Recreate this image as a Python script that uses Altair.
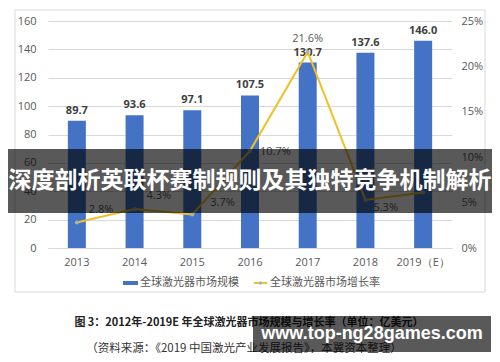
import altair as alt
import pandas as pd

# ---------------- data ----------------
years = ["2013", "2014", "2015", "2016", "2017", "2018", "2019（E）"]
market_size = [89.7, 93.6, 97.1, 107.5, 130.7, 137.6, 146.0]
growth_pct = [2.8, 4.3, 3.7, 10.7, 21.6, 5.3, 6.1]
left_ticks = [0, 20, 40, 60, 80, 100, 120, 140, 160]
right_ticks = [0, 0.05, 0.10, 0.15, 0.20, 0.25]

legend_labels = ["全球激光器市场规模", "全球激光器市场增长率"]
banner_text = "深度剖析英联杯赛制规则及其独特竞争机制解析"
caption_line1 = "图 3：2012年-2019E 年全球激光器市场规模与增长率（单位：亿美元）"
caption_line2 = "（资料来源：《2019 中国激光产业发展报告》，本翼资本整理）"
watermark_text = "www.top-ng28games.com"

df = pd.DataFrame({
    "year": years,
    "size": market_size,
    "growth": [g / 100 for g in growth_pct],
})
one = pd.DataFrame({"k": [0]})

CJK = "Noto Sans CJK SC"
NUM = "Open Sans"
BLUE = "#4472C4"
GOLD = "#EFC12B"
GRID = "#d9d9d9"
LAB = "#595959"

xenc = alt.X(
    "year:N", sort=years,
    scale=alt.Scale(paddingInner=0, paddingOuter=0),
    axis=alt.Axis(title=None, labelAngle=0, ticks=False, domainColor=GRID,
                  labelColor=LAB, labelFontSize=11, labelPadding=8, labelFont=NUM),
)

y_left = alt.Y(
    "size:Q",
    scale=alt.Scale(domain=[0, 160], nice=False),
    axis=alt.Axis(title=None, values=left_ticks, grid=True, gridColor=GRID, domain=False,
                  ticks=False, labelColor=LAB, labelFontSize=11, labelPadding=12, labelFont=NUM),
)
y_right = alt.Y(
    "growth:Q",
    scale=alt.Scale(domain=[0, 0.25], nice=False),
    axis=alt.Axis(title=None, orient="right", format=".0%", values=right_ticks, grid=False,
                  domain=False, ticks=False, labelColor=LAB, labelFontSize=11, labelPadding=9,
                  labelFont=NUM),
)

base = alt.Chart(df)
bars = base.mark_bar(size=18, color=BLUE).encode(x=xenc, y=y_left)
bar_labels = base.mark_text(dy=-10, fontWeight="bold", color="#404040", fontSize=11, font=NUM).encode(
    x=xenc, y=y_left, text=alt.Text("size:Q", format=".1f"))
left = alt.layer(bars, bar_labels)

line = base.mark_line(color=GOLD, strokeWidth=2).encode(x=xenc, y=y_right)
pts = base.mark_point(filled=True, size=16, color="#B0B0B0", opacity=1).encode(x=xenc, y=y_right)


def glabel(sel, **kw):
    return base.transform_filter(alt.FieldOneOfPredicate(field="year", oneOf=sel)).mark_text(
        color=LAB, fontSize=11, font=NUM, **kw).encode(
        x=xenc, y=y_right, text=alt.Text("growth:Q", format=".1%"))


gl1 = glabel(["2013", "2014"], align="left", dx=12, dy=-13)
gl2 = glabel(["2015"], align="left", dx=18, dy=-11)
gl3 = glabel(["2016"], align="left", dx=10, dy=1)
gl4 = glabel(["2017"], align="center", dx=0, dy=-13)
gl5 = glabel(["2018"], align="left", dx=8, dy=8)
right = alt.layer(line, pts, gl1, gl2, gl3, gl4, gl5)

dec = alt.Chart(one)

# outer frame
frame = dec.mark_rect(fill=None, stroke=GRID, strokeWidth=1).encode(
    x=alt.value(-33), x2=alt.value(437), y=alt.value(-11), y2=alt.value(271))

# legend
leg_rect = dec.mark_rect(color=BLUE).encode(
    x=alt.value(75), x2=alt.value(90), y=alt.value(260), y2=alt.value(264))
leg_t1 = dec.mark_text(align="left", baseline="middle", fontSize=11, font=CJK, color=LAB).encode(
    x=alt.value(92), y=alt.value(262), text=alt.value(legend_labels[0]))
leg_line = dec.mark_rule(color=GOLD, strokeWidth=2).encode(
    x=alt.value(206), x2=alt.value(219), y=alt.value(262))
leg_dot = dec.mark_point(filled=True, size=12, color="#B0B0B0", opacity=1).encode(
    x=alt.value(212.5), y=alt.value(262))
leg_t2 = dec.mark_text(align="left", baseline="middle", fontSize=11, font=CJK, color=LAB).encode(
    x=alt.value(222), y=alt.value(262), text=alt.value(legend_labels[1]))

# captions
cap1 = dec.mark_text(align="center", baseline="middle", fontSize=11, font=CJK, fontWeight="bold",
                     color="#222222").encode(
    x=alt.value(201), y=alt.value(302), text=alt.value(caption_line1))
cap2 = dec.mark_text(align="center", baseline="middle", fontSize=11.5, font=CJK, color="#333333").encode(
    x=alt.value(196), y=alt.value(328), text=alt.value(caption_line2))

# banner overlay
banner = dec.mark_rect(color="black", opacity=0.65).encode(
    x=alt.value(-40), x2=alt.value(444), y=alt.value(128), y2=alt.value(192))
banner_t = dec.mark_text(align="center", baseline="middle", fontSize=23, font=CJK, fontWeight="bold",
                         color="white").encode(
    x=alt.value(202), y=alt.value(160), text=alt.value(banner_text))

# watermark
wm = dec.mark_rect(color="black", opacity=0.65).encode(
    x=alt.value(205), x2=alt.value(443), y=alt.value(295), y2=alt.value(331))
wm_t = dec.mark_text(align="center", baseline="middle", fontSize=18, font="Liberation Sans",
                     fontWeight="bold", color="white").encode(
    x=alt.value(324), y=alt.value(313), text=alt.value(watermark_text))

chart = alt.layer(
    left, right, frame, leg_rect, leg_t1, leg_line, leg_dot, leg_t2, cap1, cap2,
    banner, banner_t, wm, wm_t,
).resolve_scale(y="independent").properties(
    width=404, height=227,
    autosize=alt.AutoSizeParams(type="none"),
    padding={"left": 40, "top": 13, "right": 40, "bottom": 106},
    background="white",
).configure_view(stroke=None)

chart.save("out.html", embed_options={"renderer": "svg", "actions": False})
